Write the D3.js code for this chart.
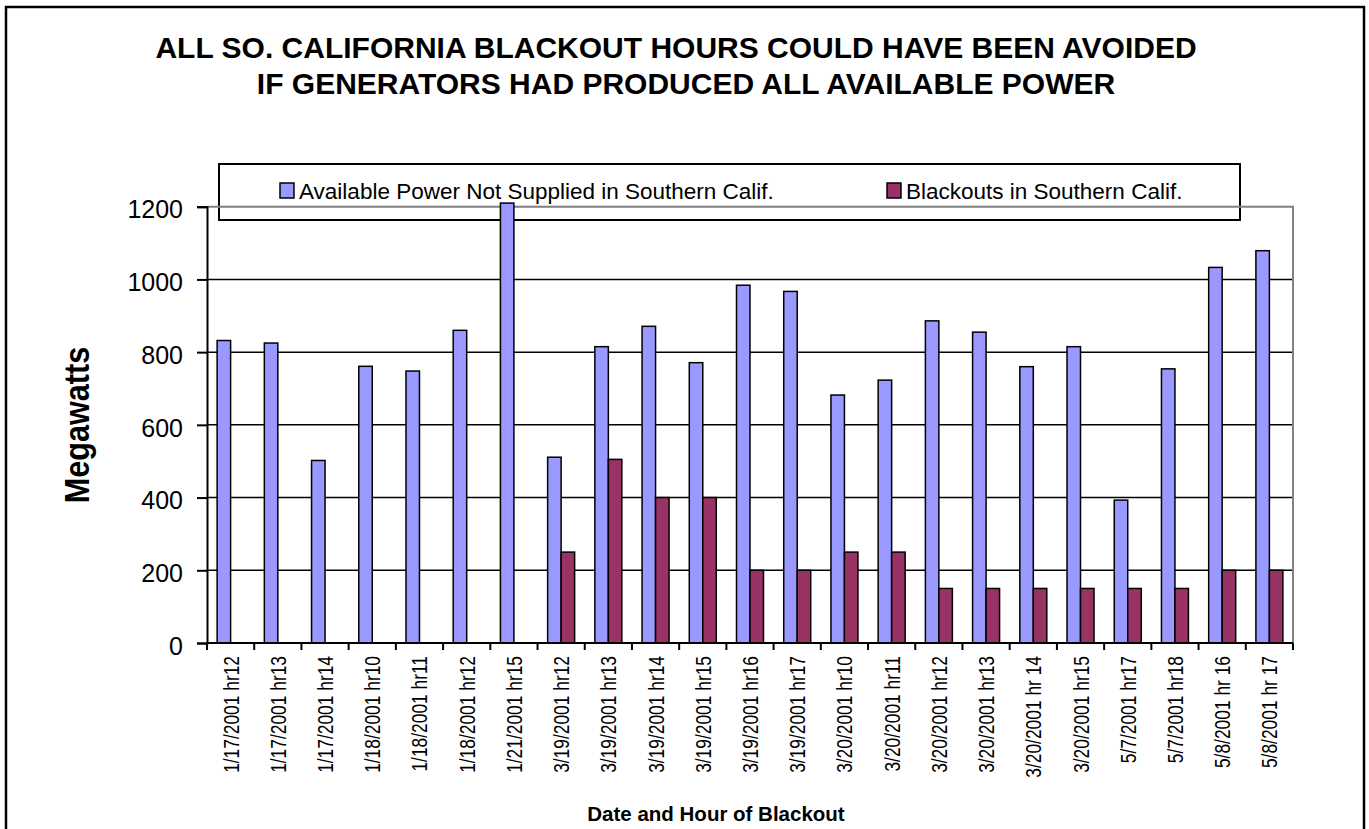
<!DOCTYPE html>
<html>
<head>
<meta charset="utf-8">
<script src="https://cdn.jsdelivr.net/npm/d3@7"></script>
<style>
  body { margin: 0; background: #fff; }
  svg { display: block; font-family: "Liberation Sans", Arial, sans-serif; }
</style>
</head>
<body>
<svg id="chart" width="1369" height="829"></svg>
<script>
// data
const categories = [
  "1/17/2001 hr12", "1/17/2001 hr13", "1/17/2001 hr14", "1/18/2001 hr10",
  "1/18/2001 hr11", "1/18/2001 hr12", "1/21/2001 hr15", "3/19/2001 hr12",
  "3/19/2001 hr13", "3/19/2001 hr14", "3/19/2001 hr15", "3/19/2001 hr16",
  "3/19/2001 hr17", "3/20/2001 hr10", "3/20/2001 hr11", "3/20/2001 hr12",
  "3/20/2001 hr13", "3/20/2001 hr 14", "3/20/2001 hr15", "5/7/2001 hr17",
  "5/7/2001 hr18", "5/8/2001 hr 16", "5/8/2001 hr 17"
];
const availablePower = [832, 825, 502, 761, 748, 860, 1210, 511, 815, 871, 771, 984, 967, 682, 723, 886, 855, 760, 815, 393, 754, 1033, 1079];
const blackouts = [0, 0, 0, 0, 0, 0, 0, 250, 505, 400, 400, 200, 200, 250, 250, 150, 150, 150, 150, 150, 150, 200, 200];
const seriesNames = ["Available Power Not Supplied in Southern Calif.", "Blackouts in Southern Calif."];
const seriesColors = ["#9999FF", "#993366"];
const yTicks = [0, 200, 400, 600, 800, 1000, 1200];
const titleLines = ["ALL SO. CALIFORNIA BLACKOUT HOURS COULD HAVE BEEN AVOIDED", "IF GENERATORS HAD PRODUCED ALL AVAILABLE POWER"];

const svg = d3.select("#chart");

// outer chart border
svg.append("rect")
  .attr("x", 6).attr("y", 7)
  .attr("width", 1358).attr("height", 840)
  .attr("fill", "none").attr("stroke", "#000").attr("stroke-width", 2.5);

// title
svg.append("g").selectAll("text")
  .data(titleLines)
  .enter().append("text")
  .attr("x", (d, i) => i === 0 ? 676 : 686)
  .attr("y", (d, i) => 58 + i * 36)
  .attr("text-anchor", "middle")
  .style("font-size", "30px")
  .style("font-weight", "bold")
  .text(d => d);

// legend
const legend = svg.append("g");
legend.append("rect")
  .attr("x", 219).attr("y", 164)
  .attr("width", 1021).attr("height", 56)
  .attr("fill", "none").attr("stroke", "#000").attr("stroke-width", 2);
const legendX = [280, 887];
seriesNames.forEach((name, i) => {
  legend.append("rect")
    .attr("x", legendX[i]).attr("y", 183)
    .attr("width", 14).attr("height", 15)
    .attr("fill", seriesColors[i]).attr("stroke", "#000").attr("stroke-width", 1.5);
  legend.append("text")
    .attr("x", legendX[i] + 19).attr("y", 199)
    .style("font-size", "22.5px")
    .text(name);
});

// plot area
const plot = { left: 207, right: 1293, top: 206.7, bottom: 643 };

const x0 = d3.scaleBand()
  .domain(categories)
  .range([plot.left, plot.right])
  .padding(0);

// gap width 150% like the original
const x1 = d3.scaleBand()
  .domain([0, 1])
  .range([0, x0.bandwidth()])
  .paddingInner(0)
  .paddingOuter(0.75);

const y = d3.scaleLinear()
  .domain([0, 1200])
  .range([plot.bottom, plot.top]);

// gridlines
svg.append("g").selectAll("line")
  .data(yTicks.filter(t => t > 0 && t < 1200))
  .enter().append("line")
  .attr("x1", plot.left).attr("x2", plot.right)
  .attr("y1", d => y(d)).attr("y2", d => y(d))
  .attr("stroke", "#000").attr("stroke-width", 1.5);

// grey plot border (top and right)
svg.append("path")
  .attr("d", `M${plot.left},${y(1200)}H${plot.right}V${plot.bottom}`)
  .attr("fill", "none").attr("stroke", "#808080").attr("stroke-width", 2);

// bars
const groups = svg.append("g").selectAll("g")
  .data(categories)
  .enter().append("g")
  .attr("transform", d => `translate(${x0(d)},0)`);

groups.selectAll("rect")
  .data((d, i) => [availablePower[i], blackouts[i]].map((v, s) => ({ v, s })))
  .enter().append("rect")
  .filter(d => d.v > 0)
  .attr("x", d => x1(d.s))
  .attr("width", x1.bandwidth())
  .attr("y", d => y(d.v))
  .attr("height", d => y(0) - y(d.v))
  .attr("fill", d => seriesColors[d.s])
  .attr("stroke", "#000")
  .attr("stroke-width", 1.5);

// y axis
const yAxis = svg.append("g")
  .attr("transform", `translate(${plot.left},0)`)
  .call(d3.axisLeft(y).tickValues(yTicks).tickSize(10).tickPadding(14).tickFormat(d3.format("d")));
yAxis.select(".domain").attr("stroke", "#000").attr("stroke-width", 2);
yAxis.selectAll(".tick line").attr("stroke", "#000").attr("stroke-width", 2);
yAxis.selectAll(".tick text")
  .attr("dy", "0.45em")
  .style("font-size", "25px")
  .style("font-family", "'Liberation Sans', Arial, sans-serif")
  .attr("fill", "#000");

// x axis: ticks on category boundaries
const xAxis = svg.append("g");
xAxis.append("line")
  .attr("x1", plot.left).attr("x2", plot.right)
  .attr("y1", plot.bottom).attr("y2", plot.bottom)
  .attr("stroke", "#000").attr("stroke-width", 2);
const bounds = categories.map(c => x0(c)).concat([plot.right]);
xAxis.selectAll(".xtick")
  .data(bounds)
  .enter().append("line")
  .attr("x1", d => d).attr("x2", d => d)
  .attr("y1", plot.bottom).attr("y2", plot.bottom + 7)
  .attr("stroke", "#000").attr("stroke-width", 2);
xAxis.selectAll(".xlabel")
  .data(categories)
  .enter().append("text")
  .attr("transform", d => `translate(${x0(d) + x0.bandwidth() / 2 + 8},656) rotate(-90) scale(0.79,1)`)
  .attr("text-anchor", "end")
  .style("font-size", "22px")
  .text(d => d);

// axis titles
svg.append("text")
  .attr("transform", "translate(89,425) rotate(-90) scale(0.85,1)")
  .attr("text-anchor", "middle")
  .style("font-size", "36px")
  .style("font-weight", "bold")
  .text("Megawatts");

svg.append("text")
  .attr("x", 716).attr("y", 821)
  .attr("text-anchor", "middle")
  .style("font-size", "20.5px")
  .style("font-weight", "bold")
  .text("Date and Hour of Blackout");
</script>
</body>
</html>
